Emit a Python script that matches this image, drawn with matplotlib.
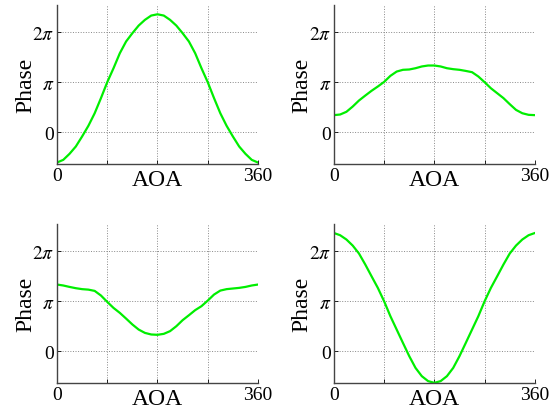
import numpy as np
import matplotlib.pyplot as plt
from matplotlib.ticker import FixedLocator, FixedFormatter

plt.rcParams['font.family'] = ['Liberation Serif', 'DejaVu Serif']
plt.rcParams['mathtext.fontset'] = 'stix'

# angle of arrival samples (degrees), every 11.25
aoa = [0, 11.25, 22.5, 33.75, 45, 56.25, 67.5, 78.75, 90, 101.25, 112.5,
       123.75, 135, 146.25, 157.5, 168.75, 180, 191.25, 202.5, 213.75, 225,
       236.25, 247.5, 258.75, 270, 281.25, 292.5, 303.75, 315, 326.25,
       337.5, 348.75, 360]

# phase values (rad)
phase_tl = [-1.91, -1.74, -1.36, -0.90, -0.27, 0.40, 1.19, 2.14, 3.14, 4.02,
            4.96, 5.70, 6.22, 6.70, 7.06, 7.33, 7.41, 7.33, 7.06, 6.70, 6.22,
            5.70, 4.96, 4.02, 3.14, 2.14, 1.19, 0.40, -0.27, -0.90, -1.36,
            -1.74, -1.91]
phase_tr = [1.07, 1.11, 1.28, 1.61, 1.99, 2.30, 2.60, 2.87, 3.16, 3.54, 3.81,
            3.92, 3.94, 4.02, 4.13, 4.19, 4.19, 4.13, 4.02, 3.96, 3.92, 3.85,
            3.77, 3.50, 3.14, 2.76, 2.45, 2.14, 1.76, 1.40, 1.19, 1.09, 1.07]
phase_bl = [4.19, 4.13, 4.04, 3.96, 3.90, 3.87, 3.79, 3.50, 3.10, 2.72, 2.41,
            2.05, 1.68, 1.36, 1.15, 1.05, 1.03, 1.09, 1.26, 1.57, 1.95, 2.26,
            2.58, 2.83, 3.18, 3.56, 3.81, 3.90, 3.94, 3.98, 4.04, 4.13, 4.19]
phase_br = [7.43, 7.29, 7.02, 6.64, 6.14, 5.45, 4.71, 3.98, 3.14, 2.20, 1.36,
            0.52, -0.31, -1.05, -1.57, -1.88, -1.99, -1.88, -1.57, -1.05, -0.31,
            0.52, 1.36, 2.20, 3.14, 3.98, 4.71, 5.45, 6.14, 6.64, 7.02, 7.29,
            7.43]

panels = [phase_tl, phase_tr, phase_bl, phase_br]
positions = [[0.1036, 0.5976, 0.3655, 0.388],
             [0.607, 0.5976, 0.3655, 0.388],
             [0.1036, 0.0634, 0.3655, 0.388],
             [0.607, 0.0634, 0.3655, 0.388]]

fig = plt.figure(figsize=(5.5, 4.1), dpi=100)

for vals, pos in zip(panels, positions):
    ax = fig.add_axes(pos)
    ax.plot(aoa, vals, color='#00ee00', lw=1.6)
    ax.set_xlim(0, 360)
    ax.set_ylim(-2, 8)
    ax.xaxis.set_major_locator(FixedLocator([0, 90, 180, 270, 360]))
    ax.xaxis.set_major_formatter(FixedFormatter(['0', '', '', '', '360']))
    ax.yaxis.set_major_locator(FixedLocator([0, np.pi, 2 * np.pi]))
    ax.yaxis.set_major_formatter(FixedFormatter(['0', r'$\pi$', r'$2\pi$']))
    ax.tick_params(direction='in', labelsize=14, length=3, width=0.6, pad=2)
    ax.grid(True, linestyle=':', color='#888888', lw=0.7)
    for s in ['top', 'right']:
        ax.spines[s].set_visible(False)
    for s in ['left', 'bottom']:
        ax.spines[s].set_color('#444444')
        ax.spines[s].set_linewidth(1.0)
    ax.set_xlabel('AOA', fontsize=17)
    ax.set_ylabel('Phase', fontsize=17)
    ax.xaxis.set_label_coords(0.5, -0.03)
    ax.yaxis.set_label_coords(-0.105, 0.5)

fig.savefig('out.png', dpi=100)
